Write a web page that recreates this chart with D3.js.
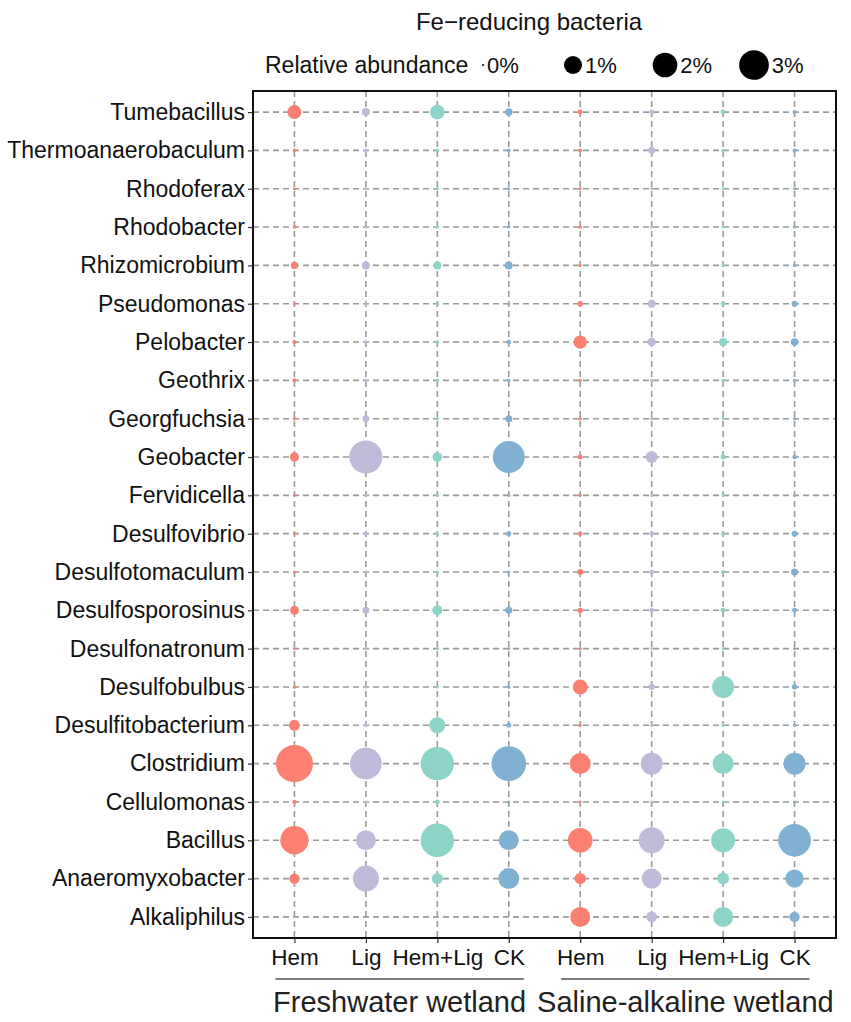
<!DOCTYPE html>
<html>
<head>
<meta charset="utf-8">
<script src="https://cdn.jsdelivr.net/npm/d3@7"></script>
<style>
  html, body { margin: 0; padding: 0; background: #fff; }
  svg { display: block; font-family: "Liberation Sans", Arial, sans-serif; }
</style>
</head>
<body>
<svg id="chart" width="851" height="1022"></svg>
<script>
// ---------------- data ----------------
const genera = ["Tumebacillus","Thermoanaerobaculum","Rhodoferax","Rhodobacter","Rhizomicrobium",
  "Pseudomonas","Pelobacter","Geothrix","Georgfuchsia","Geobacter","Fervidicella","Desulfovibrio",
  "Desulfotomaculum","Desulfosporosinus","Desulfonatronum","Desulfobulbus","Desulfitobacterium",
  "Clostridium","Cellulomonas","Bacillus","Anaeromyxobacter","Alkaliphilus"];

const treatments = ["Hem","Lig","Hem+Lig","CK"];
const groups = ["Freshwater wetland","Saline-alkaline wetland"];

// relative abundance (%) per genus, in the order of `genera`
const fwHem    = [0.56,0.01,0.005,0.01,0.11,0.005,0.02,0.016,0.008,0.21,0.003,0.005,0.005,0.19,0.002,0.01,0.32,4.8,0.02,2.7,0.27,0];
const fwLig    = [0.14,0.01,0.005,0.005,0.14,0.005,0.01,0.008,0.086,3.76,0.002,0.016,0.005,0.1,0.002,0.005,0.016,3.44,0.002,1.27,2.25,0];
const fwHemLig = [0.63,0.01,0.008,0.008,0.14,0.005,0.01,0.008,0.005,0.23,0.002,0.005,0.005,0.25,0.002,0.005,0.77,3.84,0.035,3.84,0.32,0];
const fwCK     = [0.12,0.01,0.005,0.005,0.14,0.005,0.03,0.008,0.1,3.5,0.002,0.035,0.005,0.1,0.002,0.01,0.035,4.17,0.002,1.27,1.41,0];
const saHem    = [0.035,0.01,0.005,0.01,0.005,0.05,0.5,0.005,0.01,0.035,0.005,0.025,0.06,0.043,0.005,0.66,0.005,1.41,0.003,2.0,0.34,1.27];
const saLig    = [0.035,0.086,0.005,0.005,0.005,0.14,0.17,0.005,0.005,0.39,0.002,0.016,0.035,0.025,0.002,0.07,0.005,1.56,0.003,2.25,1.27,0.3];
const saHemLig = [0.035,0.005,0.005,0.005,0.005,0.035,0.15,0.005,0.005,0.035,0.002,0.016,0.016,0.035,0.002,1.56,0.005,1.41,0.003,1.89,0.39,1.27];
const saCK     = [0.016,0.016,0.005,0.005,0.005,0.06,0.12,0.005,0.005,0.025,0.002,0.06,0.1,0.035,0.002,0.043,0.005,1.56,0.003,3.68,1.04,0.27];

const legendValues = [0, 1, 2, 3];
const legendLabels = ["0%","1%","2%","3%"];
const colors = ["#FB8072","#BEBADA","#8DD3C7","#80B1D3"];

// ---------------- build ----------------
const series = [
  {g:0,t:0,v:fwHem},{g:0,t:1,v:fwLig},{g:0,t:2,v:fwHemLig},{g:0,t:3,v:fwCK},
  {g:1,t:0,v:saHem},{g:1,t:1,v:saLig},{g:1,t:2,v:saHemLig},{g:1,t:3,v:saCK}
];
series.forEach((s,i)=>{ s.key = "c"+i; });

const svg = d3.select("#chart");
const panel = {left:253, right:836, top:91, bottom:938};

const x = d3.scalePoint().domain(series.map(s=>s.key))
  .range([panel.left, panel.right]).padding(0.58);
const y = d3.scalePoint().domain(genera)
  .range([panel.top, panel.bottom]).padding(0.55);
const r = d3.scalePow().exponent(0.5).domain([0,5]).range([1, 1 + 8*Math.sqrt(5)]);

// grid
const grid = svg.append("g").attr("stroke","#9a9a9a").attr("stroke-width",1.6)
  .attr("stroke-dasharray","6,4");
grid.selectAll("line.h").data(genera).join("line").attr("class","h")
  .attr("x1",panel.left).attr("x2",panel.right)
  .attr("y1",d=>y(d)).attr("y2",d=>y(d));
grid.selectAll("line.v").data(series).join("line").attr("class","v")
  .attr("y1",panel.top).attr("y2",panel.bottom)
  .attr("x1",d=>x(d.key)).attr("x2",d=>x(d.key));

// bubbles
const pts = [];
series.forEach(s=>{
  s.v.forEach((val,i)=>{ if (val>0) pts.push({key:s.key, t:s.t, genus:genera[i], val}); });
});
svg.append("g").selectAll("circle").data(pts).join("circle")
  .attr("cx",d=>x(d.key)).attr("cy",d=>y(d.genus))
  .attr("r",d=>r(d.val)).attr("fill",d=>colors[d.t]);

// panel border
svg.append("rect").attr("x",panel.left).attr("y",panel.top)
  .attr("width",panel.right-panel.left).attr("height",panel.bottom-panel.top)
  .attr("fill","none").attr("stroke","#111").attr("stroke-width",2);

// y axis
const yAxis = d3.axisLeft(y).tickSize(5).tickPadding(3);
const gy = svg.append("g").attr("transform",`translate(${panel.left},0)`).call(yAxis);
gy.select(".domain").remove();
gy.selectAll(".tick line").attr("stroke","#333").attr("stroke-width",1.2);
gy.selectAll(".tick text").attr("font-size",23).attr("fill","#111")
  .attr("font-family","Liberation Sans, Arial, sans-serif");

// x axis
const xAxis = d3.axisBottom(x).tickSize(5).tickPadding(6)
  .tickFormat((d,i)=>treatments[series[i].t]);
const gx = svg.append("g").attr("transform",`translate(0,${panel.bottom})`).call(xAxis);
gx.select(".domain").remove();
gx.selectAll(".tick line").attr("stroke","#333").attr("stroke-width",1.2);
gx.selectAll(".tick text").attr("font-size",22.5).attr("fill","#111")
  .attr("font-family","Liberation Sans, Arial, sans-serif");

// group brackets
groups.forEach((gname,gi)=>{
  const keys = series.filter(s=>s.g===gi).map(s=>x(s.key));
  const x0 = d3.min(keys)-19, x1 = d3.max(keys)+15;
  svg.append("line").attr("x1",x0).attr("x2",x1).attr("y1",979).attr("y2",979)
    .attr("stroke","#555").attr("stroke-width",1.5);
  svg.append("text").attr("x",(x0+x1)/2).attr("y",1012).attr("text-anchor","middle")
    .attr("font-size",29).attr("fill","#222").text(gname);
});

// title
svg.append("text").attr("x",529).attr("y",30).attr("text-anchor","middle")
  .attr("font-size",24).attr("fill","#111").text("Fe\u2212reducing bacteria");

// legend
svg.append("text").attr("x",265).attr("y",73).attr("font-size",23).attr("fill","#111")
  .text("Relative abundance");
const legX = [483, 573, 665, 754];
const lg = svg.append("g").selectAll("g").data(legendValues).join("g");
lg.append("circle").attr("cx",(d,i)=>legX[i]).attr("cy",65).attr("r",d=>r(d)).attr("fill","#000");
lg.append("text").attr("x",(d,i)=>legX[i]+r(d)+3).attr("y",73).attr("font-size",22).attr("fill","#111")
  .text((d,i)=>legendLabels[i]);
</script>
</body>
</html>
